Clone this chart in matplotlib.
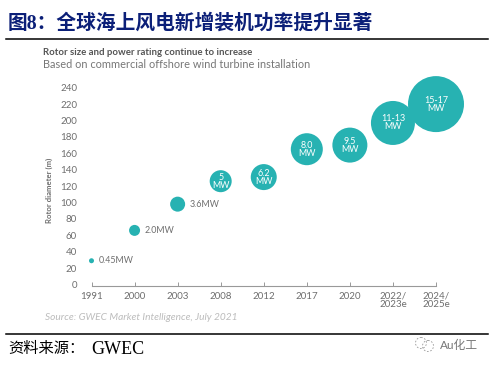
import matplotlib
matplotlib.use("Agg")
import matplotlib.pyplot as plt
from matplotlib.patches import Circle

# данные с картинки
years = ["1991", "2000", "2003", "2008", "2012", "2017", "2020", "2022/\n2023e", "2024/\n2025e"]
rotor_diameter = [29, 66, 98, 126, 131, 165, 170, 197, 220]
bubble_radius_px = [2.5, 5.5, 7.5, 11, 13, 16, 17.5, 22, 28]
power_labels = ["0.45MW", "2.0MW", "3.6MW", "5\nMW", "6.2\nMW", "8.0\nMW", "9.5\nMW", "11-13\nMW", "15-17\nMW"]
y_ticks = list(range(0, 241, 20))

W, H = 493, 366
TEAL = "#27b2b2"
GRAY = "#6e6e6e"
CJK = ["Liberation Serif", "Noto Sans CJK SC"]

fig = plt.figure(figsize=(W / 100, H / 100), dpi=100, facecolor="white")

# слой в пикселях для заголовка, линий и подписей
page = fig.add_axes([0, 0, 1, 1])
page.set_xlim(0, W)
page.set_ylim(H, 0)
page.axis("off")

page.text(8, 24, "图8\uff1a全球海上风电新增装机功率提升显著", family=CJK, fontsize=14.2, fontweight="bold",
          color="#0b1f78", va="center")
page.plot([6, 488], [38.5, 38.5], color="black", lw=1.1)
page.plot([6, 488], [333.5, 333.5], color="black", lw=1.1)

page.text(43, 52.5, "Rotor size and power rating continue to increase", family="Lato", fontsize=6.95,
          fontweight="bold", color="#555555", va="center")
page.text(43, 65, "Based on commercial offshore wind turbine installation", family="Lato", fontsize=7.9,
          color="#777777", va="center")
page.text(49, 190, "Rotor diameter (m)", family="Lato", fontsize=5.6, fontweight="bold", color=GRAY,
          rotation=90, ha="center", va="center")
page.text(45, 318, "Source: GWEC Market Intelligence, July 2021", family="Lato", fontsize=7.3,
          style="italic", color="#bcbcbc", va="center")

page.text(8, 349, "资料来源\uff1a", family=CJK, fontsize=11, color="black", va="center")
page.text(91, 349, "GWEC", family="Liberation Serif", fontsize=13, color="black", va="center")
page.text(440, 345, "Au化工", family=["Lato", "Noto Sans CJK SC"], fontsize=8.5, color="#777777", va="center")
page.add_patch(Circle((421, 343), 5.5, fill=False, ec="#999999", lw=0.6, ls=(0, (2, 2))))
page.add_patch(Circle((428, 346), 5.5, fill=False, ec="#999999", lw=0.6, ls=(0, (2, 2))))

# сам график
ax = fig.add_axes([91.5 / W, (H - 286) / H, (436 - 91.5) / W, (286 - 87.7) / H])
ax.patch.set_alpha(0)
xs = list(range(len(years)))
sizes = [(2 * r * 0.72) ** 2 for r in bubble_radius_px]
ax.scatter(xs, rotor_diameter, s=sizes, color=TEAL, linewidths=0, clip_on=False, zorder=3)

for i, label in enumerate(power_labels):
    if i < 3:
        ax.annotate(label, (xs[i], rotor_diameter[i]), xytext=(bubble_radius_px[i] * 0.72 + 3.2, 0),
                    textcoords="offset points", family="Lato", fontsize=6.4, color=GRAY,
                    va="center", ha="left")
    else:
        ax.text(xs[i], rotor_diameter[i], label, family="Lato", fontsize=6.4, color="white",
                ha="center", va="center", linespacing=0.85, zorder=4)

ax.set_xlim(0, len(years) - 1)
ax.set_ylim(-1.8, 240)
ax.set_xticks(xs)
ax.set_xticklabels(years, family="Lato", fontsize=7, color=GRAY, linespacing=0.85)
ax.set_yticks(y_ticks)
ax.set_yticklabels([str(v) for v in y_ticks], family="Lato", fontsize=7, color=GRAY)
ax.tick_params(axis="x", direction="in", length=3, width=0.7, color="#999999", pad=4)
ax.tick_params(axis="y", length=0, pad=10.4)
for side in ["top", "right", "left"]:
    ax.spines[side].set_visible(False)
ax.spines["bottom"].set_color("#999999")
ax.spines["bottom"].set_linewidth(0.8)

fig.savefig("out.png", dpi=100)
